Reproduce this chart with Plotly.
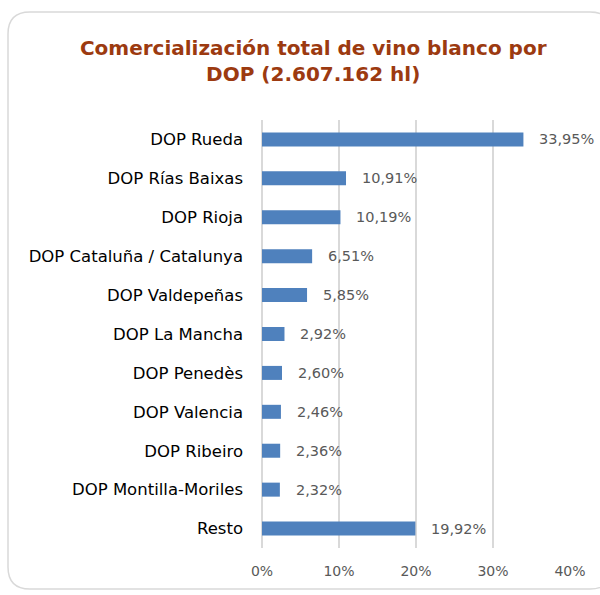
import plotly.graph_objects as go

categories = ["DOP Rueda", "DOP Rías Baixas", "DOP Rioja", "DOP Cataluña / Catalunya",
              "DOP Valdepeñas", "DOP La Mancha", "DOP Penedès", "DOP Valencia",
              "DOP Ribeiro", "DOP Montilla-Moriles", "Resto"]
values = [33.95, 10.91, 10.19, 6.51, 5.85, 2.92, 2.60, 2.46, 2.36, 2.32, 19.92]
tick_vals = [0, 10, 20, 30, 40]
tick_text = ["0%", "10%", "20%", "30%", "40%"]
title = "Comercialización total de vino blanco por<br>DOP (2.607.162 hl)"

labels = [f"{v:.2f}%".replace(".", ",") for v in values]

fig = go.Figure()
fig.add_trace(go.Bar(
    y=categories, x=values, orientation="h",
    marker=dict(color="#4F81BD", line=dict(width=0)),
    width=0.36, hoverinfo="skip",
))

for c, v, t in zip(categories, values, labels):
    fig.add_annotation(x=v, y=c, text=t, showarrow=False, xanchor="left",
                       xshift=14, font=dict(family="DejaVu Sans", size=14.5, color="#595959"))

# rounded frame
x0, x1, y0, y1 = 8, 612, 12, 589
r = 22
W, H = 600, 595
L, R, T, B = 262, 30, 120, 47
pw, ph = W - L - R, H - T - B
def px(x): return (x - L) / pw
def py(y): return 1 - (y - T) / ph
path = (f"M {px(x0+r)},{py(y0)} L {px(x1-r)},{py(y0)} "
        f"Q {px(x1)},{py(y0)} {px(x1)},{py(y0+r)} L {px(x1)},{py(y1-r)} "
        f"Q {px(x1)},{py(y1)} {px(x1-r)},{py(y1)} L {px(x0+r)},{py(y1)} "
        f"Q {px(x0)},{py(y1)} {px(x0)},{py(y1-r)} L {px(x0)},{py(y0+r)} "
        f"Q {px(x0)},{py(y0)} {px(x0+r)},{py(y0)} Z")
fig.add_shape(type="path", path=path, xref="paper", yref="paper",
              line=dict(color="#D9D9D9", width=1.5), layer="below")

fig.update_layout(
    width=W, height=H,
    margin=dict(l=L, r=R, t=T, b=B),
    paper_bgcolor="white", plot_bgcolor="white",
    title=dict(text=title, x=0.522, xanchor="center", y=0.908, yanchor="top",
               font=dict(family="DejaVu Sans", size=20, color="#9C3A10", weight="bold")),
    showlegend=False,
    bargap=0.64,
)
fig.update_xaxes(range=[0, 40], tickvals=tick_vals, ticktext=tick_text,
                 showgrid=True, gridcolor="#D9D9D9", gridwidth=1.5, zeroline=True,
                 zerolinecolor="#D9D9D9", zerolinewidth=1.5,
                 tickfont=dict(family="DejaVu Sans", size=14, color="#595959"),
                 ticks="", ticklabelstandoff=13, showline=False)
fig.update_yaxes(autorange="reversed", categoryorder="array", categoryarray=categories,
                 tickfont=dict(family="DejaVu Sans", size=16.5, color="#000000"),
                 ticks="", ticklabelstandoff=18, showgrid=False)

fig.write_html("out.html", config={"displayModeBar": False},
               post_script="document.body.style.margin='0';document.body.style.padding='0';")
